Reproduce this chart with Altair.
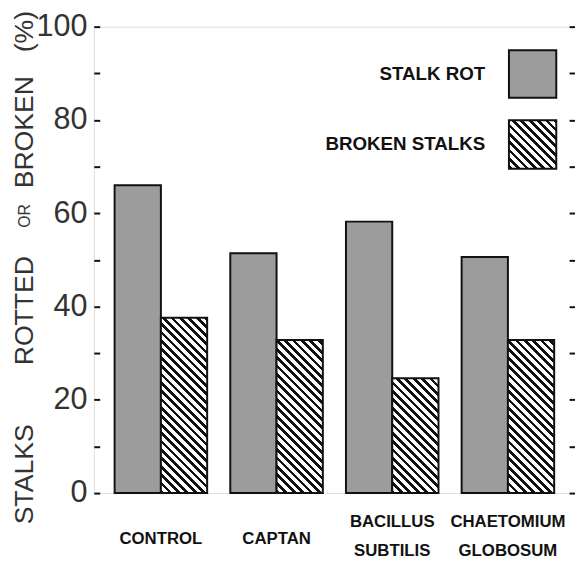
import altair as alt
import pandas as pd

# ---- data ----
categories = ["CONTROL", "CAPTAN", "BACILLUS SUBTILIS", "CHAETOMIUM GLOBOSUM"]
series = ["STALK ROT", "BROKEN STALKS"]
stalk_rot = [66, 51.4, 58.2, 50.6]
broken_stalks = [37.6, 32.8, 24.6, 32.8]
tick_values = [0, 10, 20, 30, 40, 50, 60, 70, 80, 90, 100]
title_words = ["STALKS", "ROTTED", "OR", "BROKEN", "(%)"]

# ---- layout ----
W, H = 488, 473
PAD_INNER, PAD_OUTER = 0.2, 0.18
FONT = "Liberation Sans"
INK = "#111111"

step = W / (len(categories) - PAD_INNER + 2 * PAD_OUTER)
bar_w = step * (1 - PAD_INNER) / len(series)


def hatch(w, h, period=8.5, frac=0.45):
    """diagonal '\\' hatch as a hard-stop linear gradient in bbox units"""
    r = h / w
    k = (1 + r) / (1 + r * r)
    dt = period / (w + h)
    stops = []
    t = 0.0
    while t < 1 - 1e-9:
        b = min(t + frac * dt, 1.0)
        c = min(t + dt, 1.0)
        stops += [
            {"offset": round(t, 5), "color": INK},
            {"offset": round(b, 5), "color": INK},
            {"offset": round(b, 5), "color": "#ffffff"},
            {"offset": round(c, 5), "color": "#ffffff"},
        ]
        t += dt
    return {"gradient": "linear", "x1": 0, "y1": 1, "x2": k, "y2": 1 - k * r, "stops": stops}


rows = []
for c, a, b in zip(categories, stalk_rot, broken_stalks):
    rows.append({"category": c, "series": series[0], "value": a})
    rows.append({"category": c, "series": series[1], "value": b})
df = pd.DataFrame(rows)

x_axis = alt.Axis(title=None, ticks=False, domain=False, labels=False, grid=False)
y_axis = alt.Axis(
    title=None, grid=False, domain=False, values=tick_values,
    labelExpr="datum.value % 20 == 0 ? datum.label : ''",
    tickSize=6, tickWidth=2, tickColor=INK, offset=-6, labelPadding=7,
    labelFont=FONT, labelFontSize=31, labelColor="#333333",
)
x_scale = alt.Scale(domain=categories, paddingInner=PAD_INNER, paddingOuter=PAD_OUTER)
x_enc = alt.X("category:N", scale=x_scale, axis=x_axis)
xo_enc = alt.XOffset("series:N", scale=alt.Scale(domain=series, paddingInner=0, paddingOuter=0))
y_enc = alt.Y("value:Q", scale=alt.Scale(domain=[0, 100], nice=False), axis=y_axis)

base = alt.Chart(df).encode(x=x_enc, xOffset=xo_enc, y=y_enc)

layers = [
    base.transform_filter(alt.datum.series == series[0])
    .mark_bar(fill="#9c9c9c", stroke=INK, strokeWidth=2)
]
for c, v in zip(categories, broken_stalks):
    layers.append(
        base.transform_filter((alt.datum.series == series[1]) & (alt.datum.category == c))
        .mark_bar(fill=hatch(bar_w, v * H / 100), stroke=INK, strokeWidth=2)
    )

# ---- category labels (one or two lines under each group) ----
cat_df = pd.DataFrame({"category": categories})
lab = (
    alt.Chart(cat_df)
    .transform_calculate(
        parts="split(datum.category, ' ')",
        n="length(split(datum.category, ' '))",
        first="split(datum.category, ' ')[0]",
        second="length(split(datum.category, ' ')) > 1 ? split(datum.category, ' ')[1] : ''",
    )
    .mark_text(font=FONT, fontWeight="bold", fontSize=17, color=INK, align="center", baseline="middle")
)
layers.append(lab.transform_filter("datum.n == 1").encode(
    x=x_enc, y=alt.value(520), text="first:N"))
layers.append(lab.transform_filter("datum.n > 1").encode(
    x=x_enc, y=alt.value(502), text="first:N"))
layers.append(lab.transform_filter("datum.n > 1").encode(
    x=x_enc, y=alt.value(532), text="second:N"))

# ---- legend (drawn by hand: labels sit left of the swatches) ----
leg = pd.DataFrame({"label": series})
box_x, box_x2 = 421, 469
rows_y = [(24, 72), (95, 144)]
for i, s in enumerate(series):
    y0, y1 = rows_y[i]
    d = leg[leg.label == s]
    fill = "#9c9c9c" if i == 0 else hatch(box_x2 - box_x, y1 - y0)
    layers.append(
        alt.Chart(d).mark_rect(fill=fill, stroke=INK, strokeWidth=2).encode(
            x=alt.value(box_x), x2=alt.value(box_x2), y=alt.value(y0), y2=alt.value(y1)
        )
    )
    layers.append(
        alt.Chart(d).mark_text(font=FONT, fontWeight="bold", fontSize=19, color=INK,
                               align="right", baseline="middle").encode(
            x=alt.value(397), y=alt.value((y0 + y1) / 2), text="label:N"
        )
    )

# ---- y title, word by word (small "OR") ----
tw = pd.DataFrame({"word": title_words})
word_y = [454, 288, 192, 107, 5]
word_size = [27, 27, 16, 27, 27]
for wd, yy, fs in zip(title_words, word_y, word_size):
    layers.append(
        alt.Chart(tw[tw.word == wd]).mark_text(font=FONT, fontSize=fs, color="#333333", angle=270,
                                               align="center", baseline="middle").encode(
            x=alt.value(-70), y=alt.value(yy), text="word:N"
        )
    )

main = alt.layer(*layers)

right = alt.Chart(pd.DataFrame({"v": tick_values})).mark_point(opacity=0).encode(
    y=alt.Y("v:Q", scale=alt.Scale(domain=[0, 100], nice=False),
            axis=alt.Axis(orient="right", title=None, labels=False, domain=False, grid=False,
                          values=tick_values, tickSize=6, tickWidth=2, tickColor=INK, offset=-6))
)

chart = (
    alt.layer(main, right)
    .resolve_scale(y="independent")
    .properties(width=W, height=H, autosize=alt.AutoSizeParams(type="none"),
                padding={"left": 87, "top": 15, "right": 0, "bottom": 68})
    .configure_view(stroke=INK, strokeWidth=2)
    .configure(background="white")
)

chart.save("out.html", embed_options={"renderer": "svg", "actions": False})
